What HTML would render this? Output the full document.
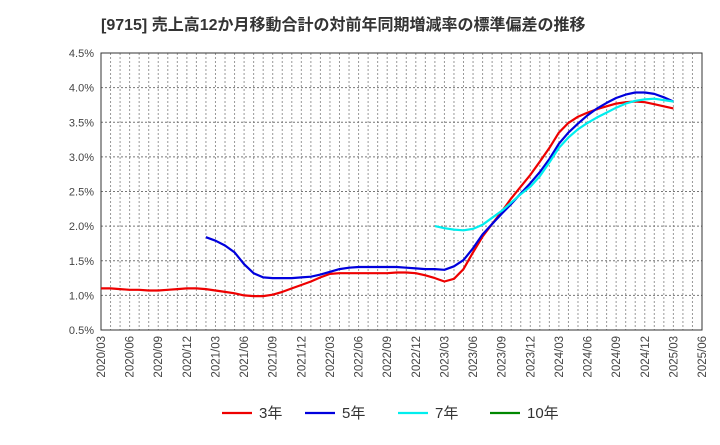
<!DOCTYPE html>
<html><head><meta charset="utf-8"><style>
body{margin:0;background:#fff;font-family:"Liberation Sans","Noto Sans CJK JP",sans-serif}
svg text{font-family:"Liberation Sans","Noto Sans CJK JP",sans-serif}
</style></head><body>
<svg id="c" width="720" height="440">
<text x="101" y="30" font-size="16" font-weight="bold" fill="#333">[9715]  売上高12か月移動合計の対前年同期増減率の標準偏差の推移</text>
<g id="grid"></g><g id="axes"></g><g id="series"></g><g id="legend"></g>
</svg>
<script>
const xLabels=["2020/03","2020/06","2020/09","2020/12","2021/03","2021/06","2021/09","2021/12","2022/03","2022/06","2022/09","2022/12","2023/03","2023/06","2023/09","2023/12","2024/03","2024/06","2024/09","2024/12","2025/03","2025/06"];
const yTicks=[0.5,1.0,1.5,2.0,2.5,3.0,3.5,4.0,4.5];
const red=[1.10,1.10,1.09,1.08,1.08,1.07,1.07,1.08,1.09,1.10,1.10,1.09,1.07,1.05,1.03,1.00,0.99,0.99,1.01,1.05,1.10,1.15,1.20,1.26,1.31,1.32,1.32,1.32,1.32,1.32,1.32,1.33,1.33,1.32,1.29,1.25,1.20,1.24,1.38,1.62,1.85,2.03,2.21,2.40,2.57,2.74,2.93,3.13,3.35,3.49,3.58,3.64,3.69,3.73,3.77,3.79,3.80,3.79,3.76,3.73,3.70];
const blueStart=11;
const blue=[1.84,1.79,1.72,1.62,1.45,1.32,1.26,1.25,1.25,1.25,1.26,1.27,1.30,1.34,1.38,1.40,1.41,1.41,1.41,1.41,1.41,1.40,1.39,1.38,1.38,1.37,1.42,1.51,1.68,1.88,2.03,2.18,2.32,2.47,2.62,2.78,2.97,3.19,3.35,3.48,3.60,3.70,3.78,3.85,3.90,3.93,3.93,3.91,3.86,3.80];
const cyanStart=35;
const cyan=[2.00,1.97,1.95,1.94,1.96,2.02,2.12,2.22,2.34,2.46,2.57,2.72,2.92,3.13,3.28,3.40,3.49,3.57,3.64,3.71,3.77,3.81,3.83,3.84,3.82,3.80];
const green=[];
const L=101,R=702,T=53,B=330,NM=63;
const X=i=>L+(R-L)*i/NM;
const Y=v=>B-(v-0.5)/4*(B-T);
const ns="http://www.w3.org/2000/svg";
function mk(t,a,p){const e=document.createElementNS(ns,t);for(const k in a)e.setAttribute(k,a[k]);p.appendChild(e);return e;}
const g=document.getElementById('grid'),ax=document.getElementById('axes'),s=document.getElementById('series'),lg=document.getElementById('legend');
for(let i=1;i<NM;i++){const l=mk('line',{x1:X(i),x2:X(i),y1:T,y2:B,stroke:'#999','stroke-dasharray':'2,2','stroke-width':1},g);

}
yTicks.forEach(v=>{const l=mk('line',{x1:L,x2:R,y1:Y(v),y2:Y(v),stroke:'#777','stroke-dasharray':'2,2','stroke-width':1},g);


const t=mk('text',{x:L-7,y:Y(v)+4,'text-anchor':'end','font-size':11,fill:'#444'},ax);t.textContent=v.toFixed(1)+'%';

});
xLabels.forEach((lab,k)=>{const x=X(k*3);const t=mk('text',{x:0,y:0,transform:`translate(${x+4},336) rotate(-90)`,'text-anchor':'end','font-size':11.5,fill:'#444'},ax);t.textContent=lab;

});
const fr=mk('rect',{x:L,y:T,width:R-L,height:B-T,fill:'none',stroke:'#333','stroke-width':1},ax);


function line(arr,start,col,name){if(!arr.length)return;const d=arr.map((v,i)=>(i?'L':'M')+X(start+i).toFixed(1)+','+Y(v).toFixed(1)).join('');
const p=mk('path',{d:d,fill:'none',stroke:col,'stroke-width':2.2,'stroke-linejoin':'round'},s);

}
line(red,0,'#ee0000','series-3y');line(blue,blueStart,'#0000dd','series-5y');line(cyan,cyanStart,'#00eeee','series-7y');line(green,0,'#008800','series-10y');
[['#ee0000','3年',222],['#0000dd','5年',305],['#00eeee','7年',398],['#008800','10年',490]].forEach(([c,t,x])=>{
const gg=mk('g',{},lg);


mk('line',{x1:x,x2:x+30,y1:413,y2:413,stroke:c,'stroke-width':2.2},gg);
const tx=mk('text',{x:x+37,y:418,'font-size':15,fill:'#333'},gg);tx.textContent=t;});
</script>
</body></html>
